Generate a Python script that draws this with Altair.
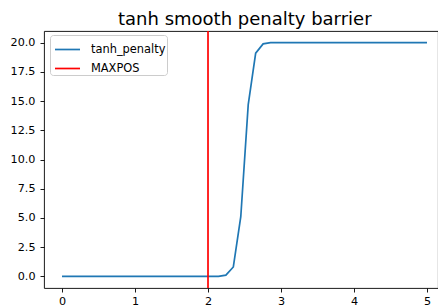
import altair as alt
import pandas as pd

x_vals = [0.0, 0.102, 0.204, 0.306, 0.408, 0.510, 0.612, 0.714, 0.816, 0.918,
          1.020, 1.122, 1.224, 1.327, 1.429, 1.531, 1.633, 1.735, 1.837, 1.939,
          2.041, 2.143, 2.245, 2.347, 2.449, 2.551, 2.653, 2.755, 2.857, 2.959,
          3.061, 3.163, 3.265, 3.367, 3.469, 3.571, 3.673, 3.776, 3.878, 3.980,
          4.082, 4.184, 4.286, 4.388, 4.490, 4.592, 4.694, 4.796, 4.898, 5.000]
y_vals = [0.0] * 22 + [0.1, 0.8, 5.1, 14.7, 19.1, 19.9] + [20.0] * 22
maxpos = [2.0]
series_names = ["tanh_penalty", "MAXPOS"]
series_colors = ["#1f77b4", "#ff0000"]
x_ticks = [0, 1, 2, 3, 4, 5]
y_ticks = [0, 2.5, 5, 7.5, 10, 12.5, 15, 17.5, 20]
title_text = ["tanh smooth penalty barrier"]

df_line = pd.DataFrame({"x": x_vals, "y": y_vals, "series": series_names[0]})
df_rule = pd.DataFrame({"x": maxpos, "series": series_names[1]})
df_title = pd.DataFrame({"t": title_text})

FONT = "DejaVu Sans"
W, H = 394, 257

color = alt.Color(
    "series:N",
    scale=alt.Scale(domain=series_names, range=series_colors),
    legend=alt.Legend(
        title=None, orient="none", legendX=6, legendY=4,
        symbolType="stroke", symbolSize=625, symbolStrokeWidth=1.7, symbolOffset=3,
        labelFont=FONT, labelFontSize=11.4, labelColor="#000000",
        labelOffset=10, padding=1, rowPadding=0,
        strokeColor="#cccccc", fillColor="#ffffff", cornerRadius=3,
    ),
)

xs = alt.Scale(domain=[-0.247, 5.151], nice=False, zero=False)
ys = alt.Scale(domain=[-1, 21], nice=False, zero=False)

line = alt.Chart(df_line).mark_line(strokeWidth=1.7).encode(
    x=alt.X("x:Q", scale=xs, axis=alt.Axis(values=x_ticks, format="d", title=None)),
    y=alt.Y("y:Q", scale=ys, axis=alt.Axis(values=y_ticks, format=".1f", title=None)),
    color=color,
)
rule = alt.Chart(df_rule).mark_rule(strokeWidth=1.7).encode(
    x=alt.X("x:Q", scale=xs),
    color=color,
)
title = alt.Chart(df_title).mark_text(
    font=FONT, fontSize=18, color="#000000", align="center", baseline="alphabetic"
).encode(
    x=alt.value(200.8), y=alt.value(-6), text="t:N"
)

chart = (
    alt.layer(line, rule, title)
    .properties(
        width=W, height=H,
        autosize=alt.AutoSizeParams(type="none"),
        padding={"left": 36, "top": 23, "right": 0, "bottom": 19},
    )
    .configure_view(stroke="#000000", strokeWidth=0.9)
    .configure_axis(
        domain=False, grid=False, ticks=True, tickColor="#000000", tickWidth=0.9,
        tickSize=4, labelFont=FONT, labelFontSize=11.2, labelColor="#000000",
    )
    .configure_axisY(labelPadding=5)
    .configure_axisX(labelPadding=3)
)

chart.save("out.html", embed_options={"renderer": "svg", "actions": False})
